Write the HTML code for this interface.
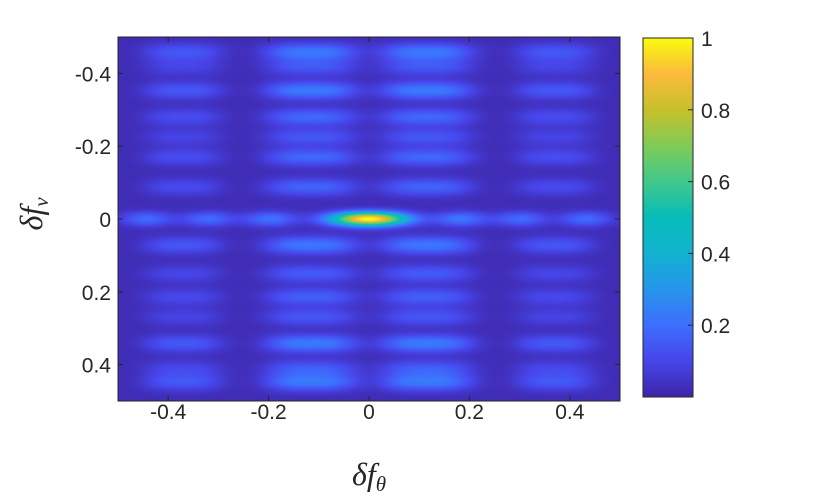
<!DOCTYPE html>
<html><head><meta charset="utf-8"><style>
body{margin:0;background:#fff;width:830px;height:502px;overflow:hidden;position:relative;font-family:"Liberation Sans",sans-serif;}
</style></head><body>
<canvas id="hm" width="502" height="364" style="position:absolute;left:118px;top:37px;"></canvas>
<canvas id="cb" width="50" height="359" style="position:absolute;left:643px;top:38px;"></canvas>
<svg id="ov" width="830" height="502" style="position:absolute;left:0;top:0"></svg>
<script>
const xTicks=[-0.4,-0.2,0,0.2,0.4];
const yTicks=[-0.4,-0.2,0,0.2,0.4];
const cTicks=[0.2,0.4,0.6,0.8,1];
const rowY=[-0.459,-0.418,-0.353,-0.280,-0.225,-0.170,-0.088,0.072,0.150,0.214,0.269,0.342,0.411,0.448];
const rowV=[0.20,0.12,0.21,0.16,0.12,0.16,0.15,0.20,0.13,0.14,0.12,0.21,0.13,0.20];
const colX=[-0.37,-0.115,0.115,0.37];
const colV=[0.6,1,1,0.6];
const midX=[-0.443,-0.320,-0.197,0.183,0.302,0.432];
const midV=[0.17,0.17,0.19,0.2,0.17,0.17];
const peakV=1;
const parula=[[62,38,168],[71,70,235],[62,111,255],[39,150,235],[18,179,208],[7,189,185],[66,200,140],[129,204,89],[200,193,43],[252,187,62],[249,251,14]];
function cmap(v){v=Math.max(0,Math.min(1,v));const p=v*10,i=Math.min(9,Math.floor(p)),f=p-i;const a=parula[i],b=parula[i+1];return [a[0]+(b[0]-a[0])*f,a[1]+(b[1]-a[1])*f,a[2]+(b[2]-a[2])*f];}
const X0=118,X1=620,Y0=37,Y1=401;
const sx=v=>X0+(v+0.5)*(X1-X0), sy=v=>Y0+(v+0.5)*(Y1-Y0);
function g(dx,dy,ax,ay){return Math.exp(-(dx*dx)/(2*ax*ax)-(dy*dy)/(2*ay*ay));}
function field(x,y){
  let v=0.02;
  for(let c=0;c<colX.length;c++){
    const w=c===0||c===3?0.062:0.072;
    const d=(x-colX[c])/w;
    const ex=Math.exp(-Math.pow(Math.abs(d),3)/2);
    for(let r=0;r<rowY.length;r++){
      const dy=y-rowY[r];
      v+=colV[c]*rowV[r]*ex*Math.exp(-dy*dy/(2*0.017*0.017));
    }
  }
  for(let i=0;i<midX.length;i++) v+=midV[i]*g(x-midX[i],y,0.036,0.014);
  v+=peakV*g(x,y,0.052,0.013);
  return v;
}
const hm=document.getElementById('hm'),ctx=hm.getContext('2d');
const img=ctx.createImageData(502,364);
for(let py=0;py<364;py++)for(let px=0;px<502;px++){
  const x=-0.5+(px+0.5)/502,y=-0.5+(py+0.5)/364;
  const c=cmap(field(x,y));const k=(py*502+px)*4;
  img.data[k]=c[0];img.data[k+1]=c[1];img.data[k+2]=c[2];img.data[k+3]=255;}
ctx.putImageData(img,0,0);
const cb=document.getElementById('cb'),cc=cb.getContext('2d');
for(let py=0;py<359;py++){const c=cmap(1-py/358);cc.fillStyle=`rgb(${c[0]|0},${c[1]|0},${c[2]|0})`;cc.fillRect(0,py,50,1);}
const ov=document.getElementById('ov'),NS='http://www.w3.org/2000/svg';
function el(t,a){const e=document.createElementNS(NS,t);for(const k in a)e.setAttribute(k,a[k]);ov.appendChild(e);return e;}
const frame=el('rect',{x:X0,y:Y0,width:X1-X0,height:Y1-Y0,fill:'none',stroke:'#262626','stroke-width':1});


const cbf=el('rect',{x:643,y:38,width:50,height:359,fill:'none',stroke:'#262626','stroke-width':1});


xTicks.forEach(v=>{const x=sx(v);
  el('line',{x1:x,x2:x,y1:Y1,y2:Y1-5,stroke:'#262626'});el('line',{x1:x,x2:x,y1:Y0,y2:Y0+5,stroke:'#262626'});
  const t=el('text',{x:x,y:Y1+18,'text-anchor':'middle','font-size':21,fill:'#262626','font-family':'Liberation Sans, sans-serif'});t.textContent=v===0?'0':String(v);
  
  });
yTicks.forEach(v=>{const y=sy(v);
  el('line',{x1:X0,x2:X0+5,y1:y,y2:y,stroke:'#262626'});el('line',{x1:X1,x2:X1-5,y1:y,y2:y,stroke:'#262626'});
  const t=el('text',{x:111,y:y+8,'text-anchor':'end','font-size':21,fill:'#262626','font-family':'Liberation Sans, sans-serif'});t.textContent=v===0?'0':String(v);
  
  });
cTicks.forEach(v=>{const y=38+(1-v)*359;
  if(v<1)el('line',{x1:693,x2:688,y1:y,y2:y,stroke:'#262626'});
  const t=el('text',{x:701,y:y+8,'font-size':21,fill:'#262626','font-family':'Liberation Sans, sans-serif'});t.textContent=String(v);
  
  });
const xl=el('text',{x:369,y:485,'text-anchor':'middle','font-size':32,'font-style':'italic',fill:'#262626','font-family':'Liberation Serif, serif'});
xl.innerHTML='δf<tspan font-size="21" dy="6">θ</tspan>';


const yl=el('text',{x:0,y:0,'text-anchor':'middle','font-size':32,'font-style':'italic',fill:'#262626','font-family':'Liberation Serif, serif',transform:'translate(42,214) rotate(-90)'});
yl.innerHTML='δf<tspan font-size="21" dy="6">v</tspan>';


</script>
</body></html>
